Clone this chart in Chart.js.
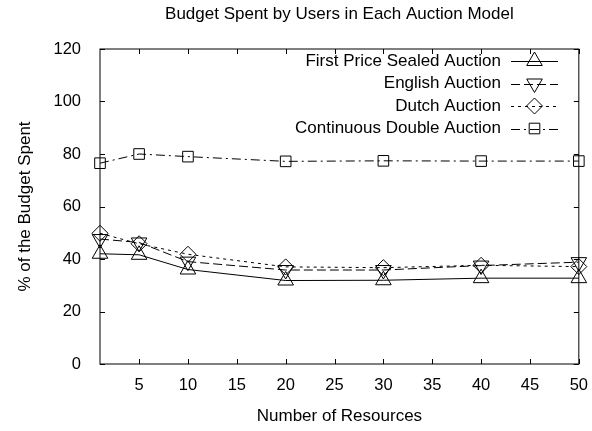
<!DOCTYPE html>
<html>
<head>
<meta charset="utf-8">
<script src="https://cdn.jsdelivr.net/npm/chart.js@4/dist/chart.umd.min.js"></script>
<style>
  body { margin: 0; background: #fff; }
  #wrap { width: 592px; height: 431px; position: relative; }
</style>
</head>
<body>
<div id="wrap"><canvas id="chart"></canvas></div>
<script>
// data
const resources = [1, 5, 10, 20, 30, 40, 50];
const firstPrice = [42, 41.6, 36, 31.8, 31.9, 32.7, 32.7];
const english = [47.6, 46.3, 39, 35.8, 35.8, 37.5, 38.8];
const dutch = [49.8, 45.8, 41.8, 37, 36.7, 37.6, 37.1];
const doubleAuction = [76.5, 80, 79, 77.2, 77.4, 77.3, 77.3];

const seriesNames = [
  "First Price Sealed Auction",
  "English Auction",
  "Dutch Auction",
  "Continuous Double Auction",
];
const xTicks = [5, 10, 15, 20, 25, 30, 35, 40, 45, 50];
const yTicks = [0, 20, 40, 60, 80, 100, 120];

const FONT = "Liberation Sans, Arial, Helvetica, sans-serif";

function toPoints(values) {
  return values.map((v, i) => ({ x: resources[i], y: v }));
}

function serie(label, values, dash, style, rotation, radius) {
  return {
    label: label,
    data: toPoints(values),
    borderColor: "#000",
    borderWidth: 1,
    borderDash: dash,
    pointStyle: style,
    rotation: rotation,
    pointRadius: radius,
    pointBorderColor: "#000",
    pointBorderWidth: 1,
    pointBackgroundColor: "rgba(0,0,0,0)",
    tension: 0,
    clip: false,
  };
}

// marco con marcas hacia dentro en los cuatro lados
const frameTicks = {
  id: "frameTicks",
  afterDraw(chart) {
    const { ctx, chartArea: a } = chart;
    const xs = chart.scales.x;
    const ys = chart.scales.y;
    const len = 5;
    ctx.save();
    ctx.strokeStyle = "#000";
    ctx.lineWidth = 1;
    ctx.strokeRect(a.left, a.top, a.right - a.left, a.bottom - a.top);
    ctx.beginPath();
    xTicks.forEach((v) => {
      const px = Math.round(xs.getPixelForValue(v)) + 0.5;
      ctx.moveTo(px, a.bottom);
      ctx.lineTo(px, a.bottom - len);
      ctx.moveTo(px, a.top);
      ctx.lineTo(px, a.top + len);
    });
    yTicks.forEach((v) => {
      const py = Math.round(ys.getPixelForValue(v)) + 0.5;
      ctx.moveTo(a.left, py);
      ctx.lineTo(a.left + len, py);
      ctx.moveTo(a.right, py);
      ctx.lineTo(a.right - len, py);
    });
    ctx.stroke();
    ctx.restore();
  },
};

// títulos y leyenda al estilo gnuplot
const textLayer = {
  id: "textLayer",
  afterDraw(chart) {
    const ctx = chart.ctx;
    const a = chart.chartArea;
    const midX = (a.left + a.right) / 2;
    ctx.save();
    ctx.fillStyle = "#000";
    ctx.font = "17px " + FONT;
    ctx.textAlign = "center";
    ctx.textBaseline = "middle";
    ctx.fillText("Budget Spent by Users in Each Auction Model", midX, 14);
    ctx.fillText("Number of Resources", midX, 416);
    ctx.save();
    ctx.translate(25, (a.top + a.bottom) / 2);
    ctx.rotate(-Math.PI / 2);
    ctx.fillText("% of the Budget Spent", 0, 0);
    ctx.restore();

    const rowY = [61, 83.5, 106, 128.5];
    const textRight = 501;
    const lineX0 = 511;
    const lineX1 = 558;
    chart.data.datasets.forEach((ds, i) => {
      const y = rowY[i];
      ctx.textAlign = "right";
      ctx.fillText(ds.label, textRight, y);
      ctx.strokeStyle = "#000";
      ctx.lineWidth = 1;
      ctx.setLineDash(ds.borderDash || []);
      ctx.beginPath();
      ctx.moveTo(lineX0, Math.round(y) + 0.5);
      ctx.lineTo(lineX1, Math.round(y) + 0.5);
      ctx.stroke();
      ctx.setLineDash([]);
      ctx.fillStyle = "rgba(0,0,0,0)";
      Chart.helpers.drawPoint(ctx, {
        pointStyle: ds.pointStyle,
        rotation: ds.rotation,
        radius: ds.pointRadius,
        borderWidth: 1,
      }, (lineX0 + lineX1) / 2, y);
      ctx.fillStyle = "#000";
    });
    ctx.restore();
  },
};

new Chart(document.getElementById("chart"), {
  type: "line",
  data: {
    datasets: [
      serie(seriesNames[0], firstPrice, [], "triangle", 0, 9),
      serie(seriesNames[1], english, [9, 4], "triangle", 180, 9),
      serie(seriesNames[2], dutch, [3, 4], "rectRot", 0, 8),
      serie(seriesNames[3], doubleAuction, [9, 4, 2, 4], "rect", 0, 7.5),
    ],
  },
  options: {
    responsive: true,
    maintainAspectRatio: false,
    animation: false,
    layout: { padding: { top: 49, right: 13, left: 0, bottom: 0 } },
    plugins: {
      legend: { display: false },
      title: { display: false },
      tooltip: { enabled: false },
    },
    scales: {
      x: {
        type: "linear",
        min: 1,
        max: 50,
        afterBuildTicks: (scale) => {
          scale.ticks = xTicks.map((v) => ({ value: v }));
        },
        afterFit: (scale) => {
          scale.height = 67;
        },
        grid: { display: false },
        border: { display: false },
        ticks: { color: "#000", padding: 4, font: { size: 16.5, family: FONT } },
      },
      y: {
        min: 0,
        max: 120,
        afterBuildTicks: (scale) => {
          scale.ticks = yTicks.map((v) => ({ value: v }));
        },
        afterFit: (scale) => {
          scale.width = 100;
        },
        grid: { display: false },
        border: { display: false },
        ticks: { color: "#000", padding: 11, font: { size: 16.5, family: FONT } },
      },
    },
  },
  plugins: [frameTicks, textLayer],
});
</script>
</body>
</html>
